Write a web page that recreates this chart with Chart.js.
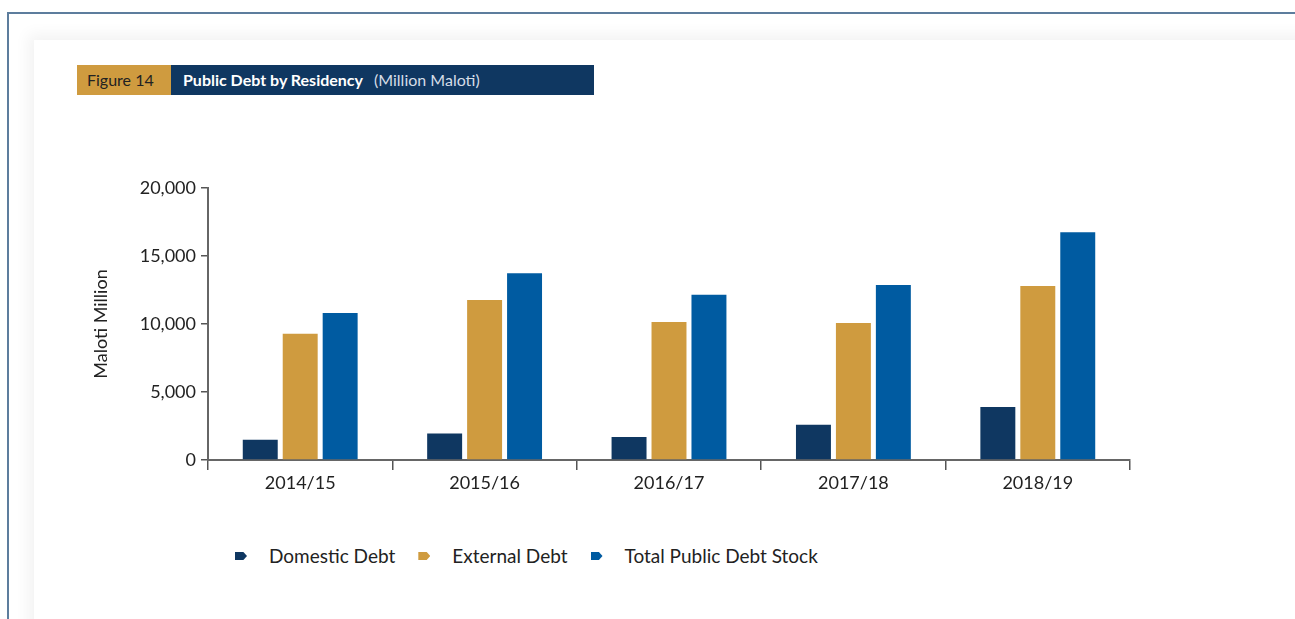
<!DOCTYPE html>
<html>
<head>
<meta charset="utf-8">
<script src="https://cdn.jsdelivr.net/npm/chart.js@4"></script>
<style>
    body { margin: 0; background: #fff; width: 1295px; height: 619px; overflow: hidden; position: relative; font-family: Lato, "Open Sans", sans-serif; }
    .frame { position: absolute; left: 7px; top: 12px; width: 1320px; height: 700px; border-left: 2px solid #5d7d9d; border-top: 2px solid #5d7d9d; }
    .panel { position: absolute; left: 34px; top: 40px; width: 1300px; height: 700px; box-shadow: 0 0 14px 6px rgba(0,0,0,0.05); background: #fff; }
    .banner { position: absolute; left: 77px; top: 65px; height: 30px; display: flex; font-size: 16px; line-height: 30px; }
    .banner .fig { background: #cf9b3f; color: #222; width: 94px; padding-left: 10px; box-sizing: border-box; }
    .banner .ttl { background: #0f3761; color: #fff; width: 423px; padding-left: 12px; box-sizing: border-box; }
    .banner .ttl b { font-weight: 700; }
    .banner .ttl span { color: #d5dde7; margin-left: 11px; }
    .chart-box { position: absolute; left: 90px; top: 170px; width: 1070px; height: 330px; }
    .legend { position: absolute; top: 544px; left: 235px; display: flex; font-size: 19px; color: #222; line-height: 24px; }
    .legend .item { display: flex; align-items: center; margin-right: 23px; }
    .legend .mark { width: 12px; height: 8px; margin-right: 22px; clip-path: polygon(0 0, 70% 0, 100% 50%, 70% 100%, 0 100%); }
</style>
</head>
<body>
<div class="frame"></div>
<div class="panel"></div>
<div class="banner"><div class="fig">Figure 14</div><div class="ttl"><b>Public Debt by Residency</b><span>(Million Maloti)</span></div></div>
<div class="chart-box"><canvas id="debtChart"></canvas></div>
<div class="legend" id="legend"></div>
<script>
// Fiscal years
const years = ['2014/15', '2015/16', '2016/17', '2017/18', '2018/19'];

// Debt values, million maloti
const domesticDebt = [1480, 1940, 1700, 2600, 3900];
const externalDebt = [9280, 11760, 10140, 10070, 12790];
const totalDebt = [10800, 13740, 12150, 12860, 16750];

const seriesNames = ['Domestic Debt', 'External Debt', 'Total Public Debt Stock'];
const seriesColors = ['#0f3761', '#cf9b3f', '#005ba1'];

const yTicks = [0, 5000, 10000, 15000, 20000];

const seriesData = [domesticDebt, externalDebt, totalDebt];

const ctx = document.getElementById('debtChart').getContext('2d');
const debtChart = new Chart(ctx, {
    type: 'bar',
    data: {
        labels: years,
        datasets: seriesData.map((values, i) => ({
            label: seriesNames[i],
            data: values,
            backgroundColor: seriesColors[i],
            categoryPercentage: 0.65,
            barPercentage: 0.875
        }))
    },
    options: {
        responsive: true,
        maintainAspectRatio: false,
        animation: false,
        layout: { padding: { top: 18, right: 30, left: 0, bottom: 0 } },
        plugins: {
            legend: { display: false },
            tooltip: { enabled: false }
        },
        scales: {
            x: {
                grid: {
                    display: true,
                    drawOnChartArea: false,
                    drawTicks: true,
                    tickLength: 10,
                    color: '#555',
                    lineWidth: 1.5,
                    offset: true
                },
                border: { display: true, color: '#666', width: 2 },
                ticks: {
                    color: '#222',
                    font: { family: 'Lato', size: 18 },
                    padding: 2
                },
                afterFit: function(scale) { scale.height = 40; }
            },
            y: {
                min: 0,
                max: 20000,
                afterBuildTicks: function(scale) {
                    scale.ticks = yTicks.map(v => ({ value: v }));
                },
                grid: {
                    display: true,
                    drawOnChartArea: false,
                    drawTicks: true,
                    tickLength: 7,
                    color: '#555',
                    lineWidth: 1.5
                },
                border: { display: true, color: '#666', width: 2 },
                ticks: {
                    color: '#222',
                    font: { family: 'Lato', size: 18 },
                    padding: 5,
                    callback: function(value) {
                        return value.toLocaleString('en-US');
                    }
                },
                title: {
                    display: true,
                    text: 'Maloti Million',
                    color: '#222',
                    font: { family: 'Lato', size: 18 },
                    padding: { top: 0, bottom: 0 }
                },
                afterFit: function(scale) { scale.width = 118; }
            }
        }
    }
});

// Legend built from the same series arrays
const legendBox = document.getElementById('legend');
seriesNames.forEach((name, i) => {
    const item = document.createElement('div');
    item.className = 'item';
    const mark = document.createElement('div');
    mark.className = 'mark';
    mark.style.backgroundColor = seriesColors[i];
    item.appendChild(mark);
    item.appendChild(document.createTextNode(name));
    legendBox.appendChild(item);
});
</script>
</body>
</html>
